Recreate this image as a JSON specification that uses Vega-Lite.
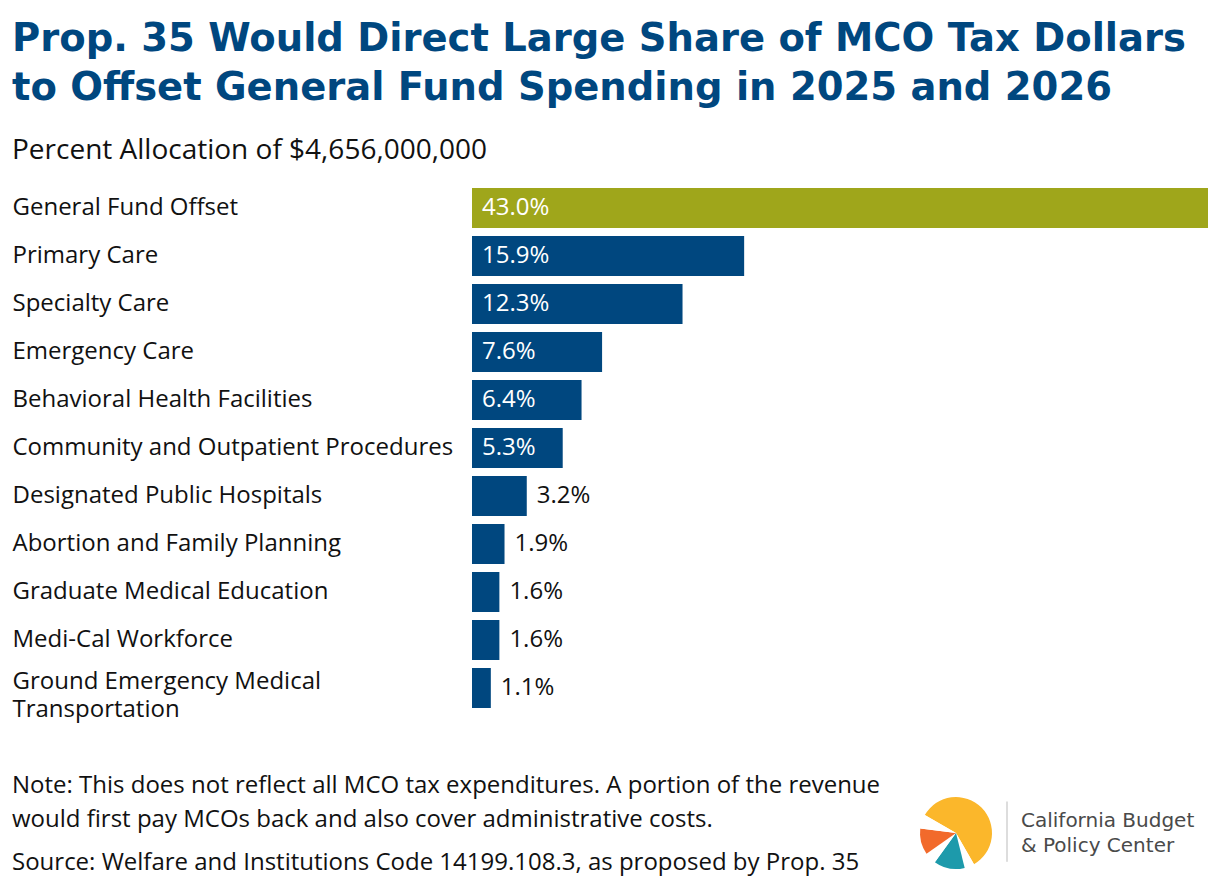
{
  "$schema": "https://vega.github.io/schema/vega-lite/v6.json",
  "padding": {"left": 12, "top": 19, "right": 0, "bottom": 0},
  "background": "white",
  "config": {"view": {"stroke": null}, "font": "Open Sans"},
  "title": {
    "text": ["Prop. 35 Would Direct Large Share of MCO Tax Dollars", "to Offset General Fund Spending in 2025 and 2026"],
    "subtitle": "Percent Allocation of $4,656,000,000",
    "anchor": "start",
    "frame": "bounds",
    "font": "DejaVu Sans",
    "fontWeight": "bold",
    "fontSize": 38.5,
    "lineHeight": 49,
    "color": "#00477f",
    "subtitleFont": "Open Sans",
    "subtitleFontSize": 28,
    "subtitleColor": "#111111",
    "subtitlePadding": 29,
    "offset": 18
  },
  "spacing": 21,
  "resolve": {"scale": {"color": "independent", "x": "independent", "y": "independent"}},
  "vconcat": [
    {
      "width": 1196,
      "height": 528,
      "data": {"values": [
        {"category": "General Fund Offset", "share": 0.430, "group": "offset"},
        {"category": "Primary Care", "share": 0.159, "group": "program"},
        {"category": "Specialty Care", "share": 0.123, "group": "program"},
        {"category": "Emergency Care", "share": 0.076, "group": "program"},
        {"category": "Behavioral Health Facilities", "share": 0.064, "group": "program"},
        {"category": "Community and Outpatient Procedures", "share": 0.053, "group": "program"},
        {"category": "Designated Public Hospitals", "share": 0.032, "group": "program"},
        {"category": "Abortion and Family Planning", "share": 0.019, "group": "program"},
        {"category": "Graduate Medical Education", "share": 0.016, "group": "program"},
        {"category": "Medi-Cal Workforce", "share": 0.016, "group": "program"},
        {"category": "Ground Emergency Medical|Transportation", "share": 0.011, "group": "program"}
      ]},
      "encoding": {
        "y": {
          "field": "category",
          "type": "nominal",
          "sort": null,
          "scale": {"paddingInner": 0.1667, "paddingOuter": 0.0833},
          "axis": {
            "title": null,
            "domain": false,
            "ticks": false,
            "labelAlign": "left",
            "labelPadding": 0,
            "labelFont": "Open Sans",
            "labelFontSize": 24,
            "labelColor": "#111111",
            "labelLimit": 0,
            "labelLineHeight": 28,
            "labelOffset": {"condition": {"test": "indexof(datum.value, '|') >= 0", "value": -6}, "value": 0},
            "labelExpr": "split(datum.label, '|')"
          }
        }
      },
      "layer": [
        {
          "mark": {"type": "bar"},
          "encoding": {
            "x": {"field": "share", "type": "quantitative", "scale": {"domain": [0, 0.43], "range": [460, 1196], "nice": false, "zero": true}, "axis": null},
            "color": {"field": "group", "type": "nominal", "scale": {"domain": ["offset", "program"], "range": ["#9fa61b", "#00477f"]}, "legend": null}
          }
        },
        {
          "transform": [{"filter": "datum.share >= 0.05"}],
          "mark": {"type": "text", "align": "left", "baseline": "middle", "dx": 10, "color": "#ffffff", "fontSize": 24, "font": "Open Sans"},
          "encoding": {
            "x": {"datum": 0, "type": "quantitative"},
            "text": {"field": "share", "type": "quantitative", "format": ".1%"}
          }
        },
        {
          "transform": [{"filter": "datum.share < 0.05"}],
          "mark": {"type": "text", "align": "left", "baseline": "middle", "dx": 10, "color": "#111111", "fontSize": 24, "font": "Open Sans"},
          "encoding": {
            "x": {"field": "share", "type": "quantitative"},
            "text": {"field": "share", "type": "quantitative", "format": ".1%"}
          }
        }
      ]
    },
    {
      "resolve": {"scale": {"color": "independent", "x": "independent", "y": "independent", "theta": "independent"}},
      "hconcat": [
        {
          "width": 894,
          "height": 163,
          "data": {"values": [
            {"order": 1, "line": "Note: This does not reflect all MCO tax expenditures. A portion of the revenue\nwould first pay MCOs back and also cover administrative costs."},
            {"order": 2, "line": "Source: Welfare and Institutions Code 14199.108.3, as proposed by Prop. 35"}
          ]},
          "mark": {"type": "text", "align": "left", "baseline": "middle", "lineBreak": "\n", "lineHeight": 34, "fontSize": 24, "font": "Open Sans", "color": "#111111"},
          "encoding": {
            "x": {"datum": 0, "type": "quantitative", "scale": {"domain": [0, 1]}, "axis": null},
            "y": {"field": "order", "type": "ordinal", "scale": {"type": "point", "padding": 0.558}, "axis": null},
            "text": {"field": "line", "type": "nominal"}
          }
        },
        {
          "width": 72,
          "height": 180,
          "data": {"values": [
            {"part": "yellow", "deg": 210, "order": 1},
            {"part": "gap1", "deg": 16, "order": 2},
            {"part": "teal", "deg": 50, "order": 3},
            {"part": "gap2", "deg": 19, "order": 4},
            {"part": "orange", "deg": 42, "order": 5},
            {"part": "gap3", "deg": 23, "order": 6}
          ]},
          "mark": {"type": "arc", "radius": 36},
          "encoding": {
            "theta": {"field": "deg", "type": "quantitative", "stack": true, "scale": {"domain": [0, 360], "range": [5.236, 11.519]}},
            "order": {"field": "order", "type": "quantitative"},
            "color": {"field": "part", "type": "nominal", "scale": {"domain": ["yellow", "gap1", "teal", "gap2", "orange", "gap3"], "range": ["#fbb72b", "#ffffff", "#1d9aab", "#ffffff", "#f26a2b", "#ffffff"]}, "legend": null}
          }
        },
        {
          "width": 200,
          "height": 180,
          "layer": [
            {
              "data": {"values": [{"a": 0}]},
              "mark": {"type": "rule", "color": "#bbbbbb", "strokeWidth": 1},
              "encoding": {
                "x": {"datum": 0, "type": "quantitative", "scale": {"domain": [0, 1]}, "axis": null},
                "y": {"datum": 0.325, "type": "quantitative", "scale": {"domain": [0, 1], "reverse": true}, "axis": null},
                "y2": {"datum": 0.66}
              }
            },
            {
              "data": {"values": [{"org": "California Budget\n& Policy Center"}]},
              "mark": {"type": "text", "align": "left", "baseline": "middle", "dx": 14, "dy": -12, "lineBreak": "\n", "lineHeight": 25, "fontSize": 20, "font": "DejaVu Sans", "color": "#4a4a4a"},
              "encoding": {
                "x": {"datum": 0, "type": "quantitative", "scale": {"domain": [0, 1]}, "axis": null},
                "text": {"field": "org", "type": "nominal"}
              }
            }
          ]
        }
      ],
      "spacing": 14
    }
  ]
}
